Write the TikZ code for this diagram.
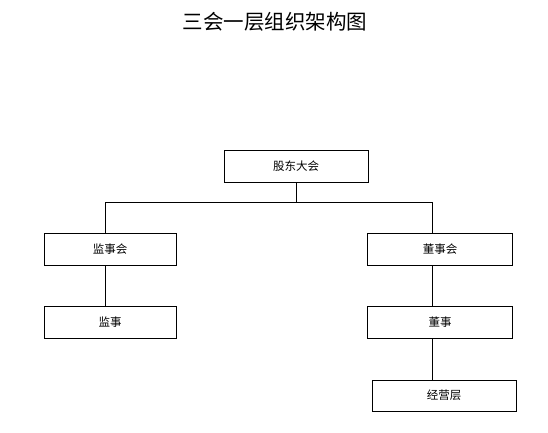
\documentclass[tikz,border=0pt]{standalone}
\usepackage{fontspec}
\newfontfamily\cjk{Noto Sans CJK SC}
\begin{document}
\begin{tikzpicture}[x=1pt,y=-1pt,
  box/.style={draw=black,line width=0.7pt,fill=white,inner sep=0pt,font=\cjk\fontsize{11.5}{13}\selectfont},
  conn/.style={draw=black,line width=0.7pt}]
\useasboundingbox (0,0) rectangle (548,432);
\node[font=\cjk\fontsize{20.5}{24}\selectfont] (title) at (275,22) {三会一层组织架构图};
\node[box,minimum width=144pt,minimum height=32pt] (gd) at (296,166) {股东大会};
\node[box,minimum width=132pt,minimum height=32pt] (jsh) at (110,249) {监事会};
\node[box,minimum width=132pt,minimum height=32pt] (js) at (110,322) {监事};
\node[box,minimum width=145pt,minimum height=32pt] (dsh) at (440,249) {董事会};
\node[box,minimum width=145pt,minimum height=32pt] (ds) at (440,322) {董事};
\node[box,minimum width=144pt,minimum height=31pt] (jyc) at (444,395.5) {经营层};
\coordinate (hub) at (296,202);
\coordinate (hl) at (105,202);
\coordinate (hr) at (432,202);
\draw[conn] (gd.south) -- (hub);
\draw[conn] (hl) -- (hr);
\draw[conn] (hl) -- (hl |- jsh.north);
\draw[conn] (hr) -- (hr |- dsh.north);
\draw[conn] (hl |- jsh.south) -- (hl |- js.north);
\draw[conn] (hr |- dsh.south) -- (hr |- ds.north);
\draw[conn] (hr |- ds.south) -- (hr |- jyc.north);
\end{tikzpicture}
\end{document}
